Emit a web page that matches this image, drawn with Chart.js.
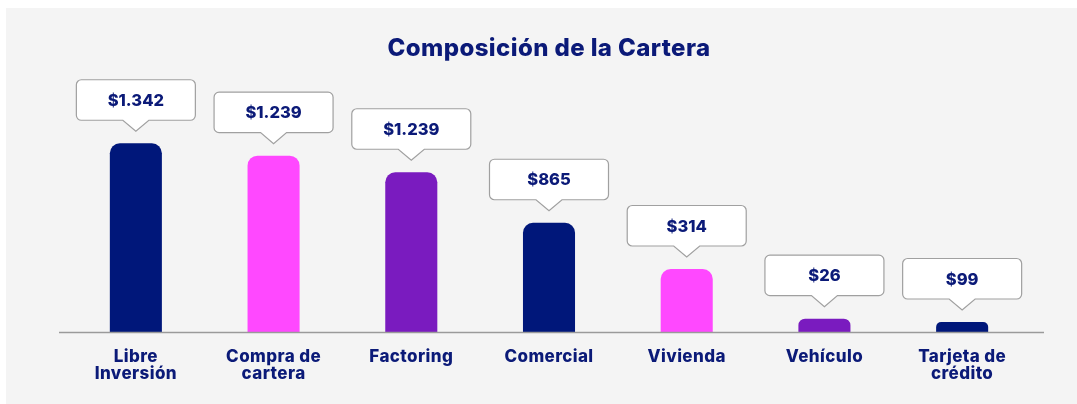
<!DOCTYPE html>
<html>
<head>
<meta charset="utf-8">
<title>Composición de la Cartera</title>
<script src="https://cdn.jsdelivr.net/npm/chart.js@4.4.1/dist/chart.umd.min.js"></script>
<style>
  html, body { margin: 0; padding: 0; background: #fff; }
  #wrap { width: 1077px; height: 404px; position: relative; }
</style>
</head>
<body>
<div id="wrap"><canvas id="cartera"></canvas></div>
<script>
/* Composición de la Cartera */

const categorias = [["Libre", "Inversión"], ["Compra de", "cartera"], "Factoring", "Comercial", "Vivienda", "Vehículo", ["Tarjeta de", "crédito"]];
// amounts printed in the callouts
const montos = ["$1.342", "$1.239", "$1.239", "$865", "$314", "$26", "$99"];
// bar heights as drawn in the source (it does not draw them to scale with the amounts)
const alturas = [1342, 1254, 1136, 777, 448, 95, 71];
const colores = ["#00177a", "#ff48ff", "#7a1bbf", "#00177a", "#ff48ff", "#7a1bbf", "#00177a"];

const azul = "#0b1a78";
Chart.defaults.font.family = "Inter, 'Noto Sans', sans-serif";

// gray panel behind the chart, a bit of tracking for the heavy labels
const fondo = {
  id: 'fondo',
  beforeDraw(chart) {
    const ctx = chart.ctx;
    ctx.fillStyle = '#f4f4f4';
    ctx.fillRect(6, 8, chart.width - 6, chart.height - 8);
    ctx.letterSpacing = '0.4px';
  }
};

// base line + callout boxes over each bar
const globos = {
  id: 'globos',
  afterDatasetsDraw(chart) {
    const ctx = chart.ctx;
    const area = chart.chartArea;
    ctx.save();
    ctx.strokeStyle = '#9a9a9a';
    ctx.lineWidth = 1.5;
    ctx.beginPath();
    ctx.moveTo(59, area.bottom + 0.5);
    ctx.lineTo(1044, area.bottom + 0.5);
    ctx.stroke();

    chart.getDatasetMeta(0).data.forEach((bar, i) => {
      const cx = bar.x, tip = bar.y - 12, bottom = tip - 11, top = bottom - 40.5;
      const left = cx - 59.5, right = cx + 59.5, r = 5;
      ctx.beginPath();
      ctx.moveTo(left + r, top);
      ctx.lineTo(right - r, top);
      ctx.arcTo(right, top, right, top + r, r);
      ctx.lineTo(right, bottom - r);
      ctx.arcTo(right, bottom, right - r, bottom, r);
      ctx.lineTo(cx + 13, bottom);
      ctx.lineTo(cx, tip);
      ctx.lineTo(cx - 13, bottom);
      ctx.lineTo(left + r, bottom);
      ctx.arcTo(left, bottom, left, bottom - r, r);
      ctx.lineTo(left, top + r);
      ctx.arcTo(left, top, left + r, top, r);
      ctx.closePath();
      ctx.fillStyle = '#fff';
      ctx.fill();
      ctx.strokeStyle = '#a0a0a0';
      ctx.lineWidth = 1.2;
      ctx.stroke();

      ctx.fillStyle = azul;
      ctx.letterSpacing = '0px';
      ctx.font = "800 16.5px Inter, 'Noto Sans', sans-serif";
      ctx.textAlign = 'center';
      ctx.textBaseline = 'middle';
      ctx.fillText(montos[i], cx, (top + bottom) / 2 + 1);
    });
    ctx.restore();
  }
};

new Chart(document.getElementById("cartera"), {
  type: 'bar',
  data: {
    labels: categorias,
    datasets: [{
      data: alturas,
      backgroundColor: colores,
      borderRadius: 10,
      barPercentage: 0.378,
      categoryPercentage: 1
    }]
  },
  options: {
    responsive: true,
    maintainAspectRatio: false,
    animation: false,
    layout: {
      padding: { left: 67, right: 46, top: 0, bottom: 0 }
    },
    scales: {
      x: {
        grid: { display: false, drawTicks: false },
        border: { display: false },
        ticks: {
          color: azul,
          font: { size: 17, weight: 800, lineHeight: 1 },
          padding: 16,
          maxRotation: 0,
          autoSkip: false
        },
        afterFit(scale) { scale.height = 72; }
      },
      y: {
        display: false,
        min: 0,
        max: 1863
      }
    },
    plugins: {
      legend: { display: false },
      tooltip: { enabled: false },
      title: {
        display: true,
        text: 'Composición de la Cartera',
        fullSize: false,
        color: azul,
        font: { size: 24, weight: 800, lineHeight: 1.2 },
        padding: { top: 34.5, bottom: 6.7 }
      }
    }
  },
  plugins: [fondo, globos]
});
</script>
</body>
</html>
